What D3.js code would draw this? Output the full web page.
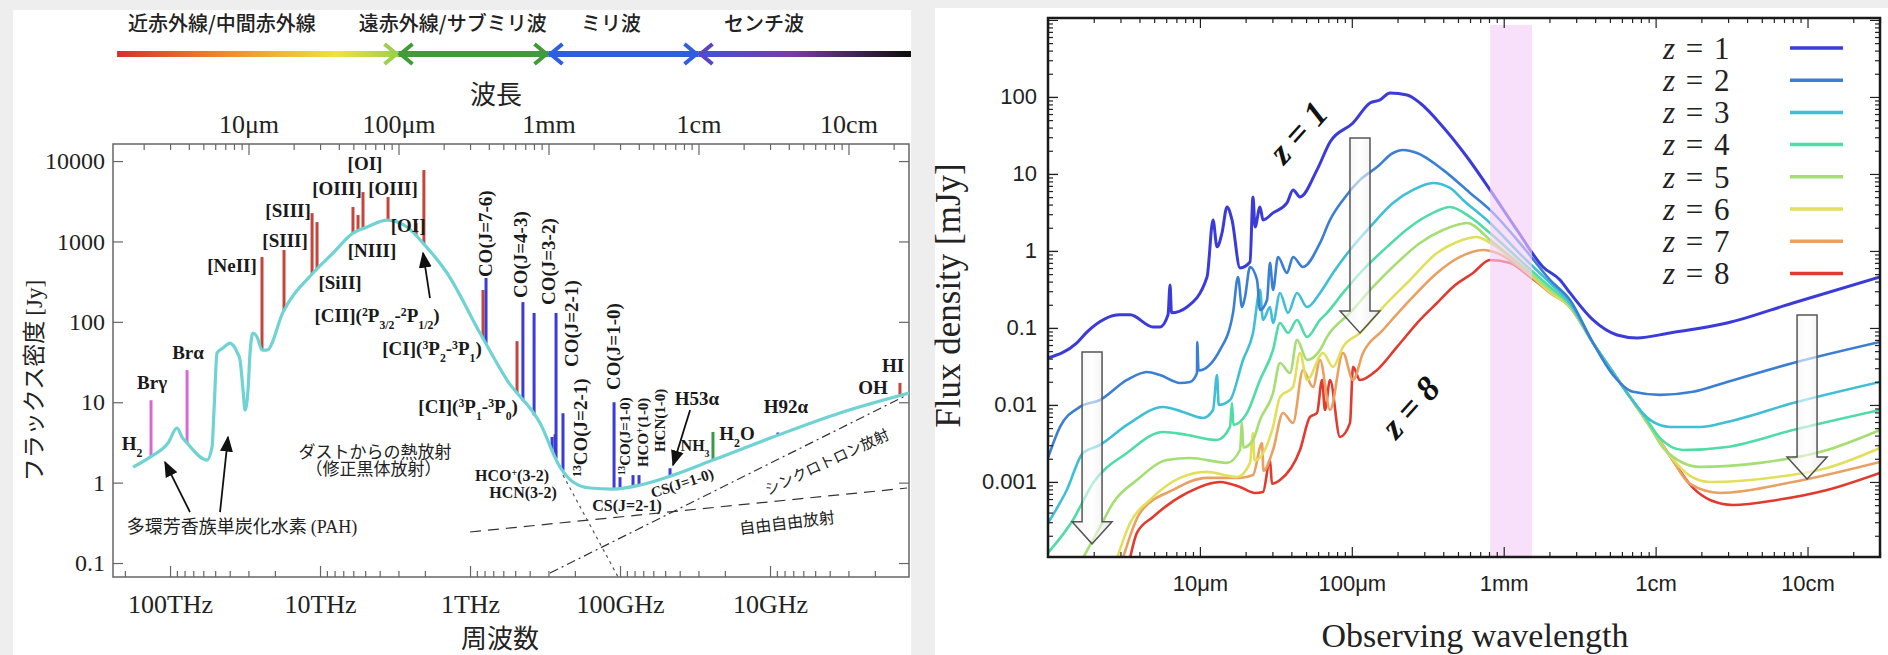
<!DOCTYPE html>
<html>
<head>
<meta charset="utf-8">
<script src="https://cdn.jsdelivr.net/npm/d3@7"></script>
<style>
  body { margin: 0; background: #eeeeee; }
  svg { display: block; }
</style>
</head>
<body>
<script>
// ================= left panel : galaxy SED with lines =================
const C_UMGHZ = 299792.458;               // λ[μm] * ν[GHz]

// wavelength bands along the top  (λ in μm)
const bandNames = ["近赤外線/中間赤外線", "遠赤外線/サブミリ波", "ミリ波", "センチ波"];
const bandEdges = [1.33, 100, 1000, 10000, 261000];
const bandNameAt = [6.65, 230, 2612, 27330];

const waveTickVals = [10, 100, 1000, 1e4, 1e5];
const waveTickLabels = ["10μm", "100μm", "1mm", "1cm", "10cm"];
const freqTickVals = [1e5, 1e4, 1e3, 100, 10];          // GHz
const freqTickLabels = ["100THz", "10THz", "1THz", "100GHz", "10GHz"];
const jyTickVals = [1e4, 1e3, 100, 10, 1, 0.1];
const jyTickLabels = ["10000", "1000", "100", "10", "1", "0.1"];

// continuum  [ν GHz, flux Jy]
const sedPoints = [
  [176500, 1.56], [135900, 2.08], [103100, 3.11], [89800, 4.78], [83200, 3.69], [77000, 3.11],
  [56660, 1.91], [52480, 2.77], [50890, 8.0], [48610, 40.9], [44340, 47.2], [39810, 54.5],
  [38020, 51.4], [35750, 42.1], [34150, 33.5], [32610, 14.2], [31620, 8.0], [30200, 14.2],
  [29290, 40.9], [27970, 72.6], [26300, 64.7], [24360, 44.6], [22560, 44.6], [17650, 132],
  [11140, 405], [8190, 718], [6030, 1271], [4860, 1510], [3575, 1845], [2630, 1510], [2058, 955],
  [1423, 405], [858, 72.6], [567, 18.9], [341.5, 5.51], [251, 1.56], [205.8, 1.02], [158.5, 0.857],
  [111.4, 0.832], [73.6, 0.933], [44.3, 1.24], [24.0, 1.91], [9.55, 3.69], [3.42, 7.35], [1.18, 13.0]
];
const freeFree = [[1000, 0.243], [1.22, 0.857]];
const synchrotron = [[293, 0.075], [1.22, 12.3]];
const dustTail = [[240, 1.24], [103, 0.067]];

// spectral lines [ν GHz, peak Jy, kind]
const specLines = [
  [133900, 10.6, "rec"], [77000, 25.1, "rec"],
  [24370, 640, "fs"], [17380, 782, "fs"], [11300, 2250, "fs"], [10470, 1740, "fs"],
  [6030, 2680, "fs"], [5580, 2130, "fs"], [5170, 4110, "fs"], [3520, 3570, "fs"],
  [2290, 1690, "fs"], [2030, 7730, "fs"], [819, 249, "fs"], [782, 351, "mol"],
  [486, 57.5, "fs"], [444, 176, "mol"], [374, 129, "mol"], [283.8, 3.7, "mol"],
  [271, 4.0, "mol"], [267, 129, "mol"], [240, 7.3, "mol"], [109.6, 10, "mol"],
  [100, 1.17, "mol"], [81.9, 1.24, "mol"], [74.7, 1.24, "mol"], [46.4, 1.51, "mol"],
  [24, 4.27, "h2o"], [8.85, 4.2, "mol"], [1.36, 17.4, "fs"]
];
const lineColor = { rec: "#d868d8", fs: "#c4453a", mol: "#3c3cd4", h2o: "#3a9a48" };

// annotations [text, ν, F]
const lineLabels = [
  ["[OI]", 5012, 9444], ["[OIII]", 7709, 4613], ["[OIII]", 3263, 4613], ["[SIII]", 16330, 2460],
  ["[OI]", 2588, 1600], ["[SIII]", 17100, 1040], ["[NIII]", 4500, 782], ["[NeII]", 38600, 508],
  ["[SiII]", 7356, 313], ["[CII](^{2}P_{3/2}-^{2}P_{1/2})", 4169, 121.6],
  ["[CI](^{3}P_{2}-^{3}P_{1})", 1791, 47.2], ["[CI](^{3}P_{1}-^{3}P_{0})", 1030, 8.97],
  ["Brα", 75860, 42.1], ["Brγ", 131800, 17.8], ["H_{2}", 179200, 3.11],
  ["H53α", 30.7, 11.3], ["H_{2}O", 16.6, 4.14], ["H92α", 7.82, 8.97], ["HI", 1.514, 29], ["OH", 2.056, 15.5]
];
const smallLabels = [
  ["HCO^{+}(3-2)", 525, 1.24], ["HCN(3-2)", 443.6, 0.764], ["CS(J=2-1)", 89.8, 0.526], ["NH_{3}", 31.6, 2.94]
];
const upLabels = [
  ["CO(J=7-6)", 794, 360], ["CO(J=4-3)", 464, 197.7], ["CO(J=3-2)", 302, 161.8],
  ["CO(J=2-1)", 212, 27.4], ["CO(J=1-0)", 111.4, 14.2], ["^{13}CO(J=2-1)", 184.8, 1.175]
];
const upSmallLabels = [
  ["^{13}CO(J=1-0)", 92.6, 1.24], ["HCO^{+}(1-0)", 70.3, 1.56], ["HCN(1-0)", 54.1, 2.40]
];
const jpLabels = [
  ["ダストからの熱放射", 4300, 2.40, 0, 17], ["（修正黒体放射）", 4400, 1.476, 0, 17],
  ["シンクロトロン放射", 4.17, 1.80, -25, 15], ["自由自由放射", 7.7, 0.315, -7, 16]
];
const arrowsL = [
  [[1849, 197.7], [2056, 718]], [[34.1, 8.0], [44.3, 1.655]],
  [[73620, 0.43], [107970, 1.80]], [[46420, 0.43], [41070, 3.69]]
];

// ================= right panel : redshifted SEDs =================
const redshifts = [1, 2, 3, 4, 5, 6, 7, 8];
const zColors = ["#3b3bd9", "#3a7fd4", "#3fbfd6", "#4fdca6", "#a5de72", "#e2df5c", "#e9a062", "#e23a2e"];
const obsTickVals = [10, 100, 1000, 1e4, 1e5];
const obsTickLabels = ["10μm", "100μm", "1mm", "1cm", "10cm"];
const mjyTickVals = [100, 10, 1, 0.1, 0.01, 0.001];
const mjyTickLabels = ["100", "10", "1", "0.1", "0.01", "0.001"];
const almaBand = [813, 1535];   // μm
const almaTop = 860;            // mJy

// [λobs μm, flux mJy]
const sedZ1 = [[1.0, 0.0408], [1.55, 0.0639], [1.81, 0.0887], [2.98, 0.148], [3.47, 0.148], [4.91, 0.103],
  [5.46, 0.103], [6.17, 0.148], [6.36, 0.362], [6.5, 0.157], [8.23, 0.187], [11.14, 0.459], [12.2, 2.53],
  [12.96, 1.13], [13.98, 1.71], [15.08, 3.73], [16.27, 2.53], [18.37, 0.602], [21.37, 0.72], [22.37, 5.03],
  [23.06, 2.05], [24.87, 3.73], [26.03, 2.53], [30.29, 3.12], [37.44, 4.2], [41.03, 6.2], [45.6, 5.03],
  [59.02, 11.3], [71.9, 26.0], [101.8, 45.9], [131.8, 83.6], [153.3, 91.4], [178.4, 112.7], [230.9, 106.2],
  [281.2, 83.6], [398.5, 40.8], [573.4, 16.6], [812.6, 6.2], [1223, 1.87], [1814, 0.62], [2348, 0.42],
  [2733, 0.285], [3872, 0.127], [5570, 0.0811], [7545, 0.0742], [12440, 0.0861], [29510, 0.116],
  [80270, 0.211], [300000, 0.459]];
const sedZ2 = [[1.0, 0.00205], [1.2, 0.00518], [1.62, 0.00942], [2.2, 0.0116], [3.31, 0.0211], [4.48, 0.0268],
  [5.46, 0.0245], [7.4, 0.0193], [8.61, 0.0199], [9.57, 0.026], [9.6, 0.0658], [9.8, 0.028], [13.56, 0.0518],
  [16.52, 0.157], [17.81, 0.459], [18.93, 0.187], [19.82, 0.253], [21.37, 0.62], [23.77, 0.42], [24.87, 0.171],
  [27.66, 0.231], [28.94, 0.699], [30.29, 0.312], [32.67, 0.836], [37.44, 0.518], [41.03, 0.836], [47.72, 0.62],
  [61.78, 1.27], [71.9, 2.53], [87.5, 4.6], [113.2, 8.36], [146.6, 12.3], [186.7, 18.7], [217.3, 20.5],
  [268.8, 18.7], [398.5, 11.3], [600, 5.67], [812.6, 3.41], [1340, 1.13], [2017, 0.42], [2733, 0.231],
  [3872, 0.0639], [5244, 0.0245], [7101, 0.0148], [10690, 0.0135], [17630, 0.0148], [29510, 0.0199],
  [80270, 0.0351], [300000, 0.0658]];
const sedZ3 = [[1.0, 0.000293], [1.33, 0.000787], [1.7, 0.00238], [2.2, 0.00302], [3.31, 0.0055], [5.72, 0.00942],
  [7.74, 0.00811], [10.48, 0.00678], [12.2, 0.00861], [12.96, 0.0245], [13.3, 0.01], [15.78, 0.0116],
  [19.22, 0.0384], [22.37, 0.0861], [24.87, 0.312], [26.03, 0.127], [28.94, 0.187], [30.29, 0.116],
  [33.68, 0.285], [38.02, 0.157], [43.58, 0.285], [50.72, 0.187], [61.78, 0.285], [75.2, 0.518], [97.3, 1.03],
  [131.8, 2.05], [186.7, 4.2], [252.9, 6.2], [342.5, 7.64], [443.1, 6.58], [539.7, 4.6], [812.6, 2.31],
  [1340, 0.836], [2017, 0.384], [2733, 0.211], [3872, 0.0639], [5011, 0.0302], [6785, 0.0127],
  [9188, 0.00639], [12440, 0.00518], [19600, 0.00518], [29510, 0.00602], [80270, 0.0106], [300000, 0.0199]];
const sedZ4 = [[1.0, 0.00012], [1.46, 0.000321], [1.98, 0.000971], [3.31, 0.00238], [5.72, 0.00446],
  [8.23, 0.00408], [12.96, 0.00351], [15.78, 0.00518], [16.27, 0.0106], [16.6, 0.0055], [20.42, 0.00787],
  [24.87, 0.0211], [30.29, 0.0518], [33.68, 0.116], [38.02, 0.0861], [43.58, 0.127], [50.72, 0.0764],
  [61.78, 0.127], [68.66, 0.157], [87.5, 0.285], [118.5, 0.567], [170.5, 1.13], [241.7, 2.05], [342.5, 3.12],
  [443.1, 3.73], [600, 2.77], [812.6, 1.71], [1340, 0.699], [2017, 0.341], [2733, 0.199], [3872, 0.0639],
  [5011, 0.0302], [6785, 0.0127], [8777, 0.00639], [10690, 0.0037], [15150, 0.0026], [29510, 0.00285],
  [80270, 0.00473], [300000, 0.00861]];
const sedZ5 = [[1.7, 0.000103], [2.2, 0.00026], [2.68, 0.000534], [3.85, 0.00106], [6.07, 0.00193],
  [8.61, 0.00205], [15.08, 0.00177], [18.37, 0.0026], [18.93, 0.00584], [19.3, 0.0028], [22.37, 0.00351],
  [24.87, 0.00639], [30.29, 0.0143], [33.68, 0.0351], [39.2, 0.026], [43.58, 0.0699], [50.72, 0.0384],
  [61.78, 0.0518], [68.66, 0.0764], [97.3, 0.157], [137.9, 0.341], [198.5, 0.699], [281.2, 1.27],
  [398.5, 1.87], [573.4, 2.31], [812.6, 1.39], [1340, 0.62], [2017, 0.312], [2733, 0.193], [3872, 0.0639],
  [5011, 0.0302], [6785, 0.0127], [8777, 0.00602], [11530, 0.0026], [19600, 0.00157], [48680, 0.00177],
  [134400, 0.0026], [300000, 0.00473]];
const sedZ6 = [[2.85, 0.000103], [3.47, 0.000293], [4.69, 0.000584], [7.4, 0.00113], [11.14, 0.00135],
  [17.55, 0.00116], [21.37, 0.00177], [22.37, 0.00433], [22.9, 0.0019], [30.29, 0.00518], [33.68, 0.0127],
  [41.03, 0.0171], [45.6, 0.0473], [50.72, 0.0211], [64.66, 0.0473], [75.2, 0.0312], [87.5, 0.0567],
  [113.2, 0.0861], [160.5, 0.187], [241.7, 0.42], [363.8, 0.942], [492.7, 1.31], [667.3, 1.52], [812.6, 1.27],
  [1340, 0.602], [2017, 0.293], [2733, 0.187], [3872, 0.0639], [5011, 0.0302], [6785, 0.0127],
  [8777, 0.00602], [12440, 0.00218], [16850, 0.0012], [22810, 0.001], [62990, 0.00116], [134400, 0.00152],
  [300000, 0.00276]];
const sedZ7 = [[3.12, 0.000103], [4.03, 0.000396], [6.65, 0.000787], [11.14, 0.00113], [18.37, 0.00113],
  [22.37, 0.00123], [25.64, 0.00321], [26.2, 0.0014], [30.29, 0.0026], [35.25, 0.00787], [41.03, 0.00584],
  [47.72, 0.0285], [55.55, 0.0171], [61.78, 0.0384], [71.9, 0.00861], [87.5, 0.0473], [101.8, 0.0211],
  [118.5, 0.0473], [160.5, 0.0942], [241.7, 0.231], [363.8, 0.518], [515.6, 0.836], [730.7, 1.03],
  [903.6, 0.942], [1340, 0.567], [2017, 0.285], [2733, 0.187], [3872, 0.0639], [5011, 0.0302],
  [6785, 0.0127], [8777, 0.00602], [12440, 0.00218], [16850, 0.000942], [26540, 0.00072], [80270, 0.001],
  [300000, 0.00182]];
const sedZ8 = [[3.47, 0.000103], [3.85, 0.000218], [4.91, 0.000351], [8.23, 0.00072], [13.56, 0.001],
  [18.37, 0.000861], [23.06, 0.00072], [26.03, 0.000742], [28.94, 0.00193], [29.8, 0.00095], [33.68, 0.00106],
  [45.6, 0.0026], [53.07, 0.00699], [59.02, 0.00787], [63.68, 0.0211], [66.6, 0.00861], [71.9, 0.0211],
  [83.6, 0.00384], [97.3, 0.00584], [101.8, 0.0312], [113.2, 0.0211], [146.6, 0.0285], [198.5, 0.0567],
  [281.2, 0.127], [363.8, 0.211], [463.7, 0.341], [628.1, 0.518], [812.6, 0.764], [1100, 0.699],
  [1490, 0.459], [2017, 0.293], [2733, 0.187], [3872, 0.0639], [5011, 0.0302], [6785, 0.0127],
  [8777, 0.00602], [12440, 0.00218], [17630, 0.000836], [22810, 0.000584], [32330, 0.000503],
  [62990, 0.000584], [134400, 0.000787], [300000, 0.00131]];
const zSeds = [sedZ1, sedZ2, sedZ3, sedZ4, sedZ5, sedZ6, sedZ7, sedZ8];

// redshift annotations and hollow arrows [λ, F]
const zNotes = [["z = 1", 44.2, 35.1], ["z = 8", 241.7, 0.00942]];
const zArrows = [[113.2, 29.4, 0.0861], [1.95, 0.0488, 0.000157], [99300, 0.1476, 0.00109]];

// ====================================================================
const serif = "'Liberation Serif','Times New Roman',serif";
const cjk = "'Noto Sans CJK JP','Noto Sans CJK SC',sans-serif";
const sans = "'Liberation Sans',Arial,sans-serif";

const svg = d3.select("body").append("svg").attr("width", 1888).attr("height", 655);
const defs = svg.append("defs");

// cards
svg.append("rect").attr("x", 13).attr("y", 10).attr("width", 898).attr("height", 645).attr("fill", "#fff");
svg.append("rect").attr("x", 935).attr("y", 8).attr("width", 953).attr("height", 647).attr("fill", "#fff");

function rich(t, str) {
  str.split(/(\^\{[^}]*\}|_\{[^}]*\})/).forEach(p => {
    if (!p) return;
    if (p.startsWith("^{")) t.append("tspan").attr("baseline-shift", "super").attr("font-size", "62%").text(p.slice(2, -1));
    else if (p.startsWith("_{")) t.append("tspan").attr("baseline-shift", "sub").attr("font-size", "62%").text(p.slice(2, -1));
    else t.append("tspan").text(p);
  });
  return t;
}
function isDecade(d) { return Math.abs(Math.log10(d) - Math.round(Math.log10(d))) < 1e-6; }

// ---------------- left panel ----------------
const L = { x0: 113, x1: 909, y0: 144, y1: 577 };
const xF = d3.scaleLog().domain([2.4e5, 1.184]).range([L.x0, L.x1]);
const xW = d3.scaleLog().domain([C_UMGHZ / 2.4e5, C_UMGHZ / 1.184]).range([L.x0, L.x1]);
const yJ = d3.scaleLog().domain([0.067, 16300]).range([L.y1, L.y0]);
const left = svg.append("g");

// band bar
const bandY = 54;
const grad0 = defs.append("linearGradient").attr("id", "band0").attr("gradientUnits", "userSpaceOnUse")
  .attr("x1", xW(bandEdges[0])).attr("x2", xW(bandEdges[1])).attr("y1", 0).attr("y2", 0);
[[0, "#d8302a"], [0.38, "#ef8a2c"], [0.78, "#f1e23c"], [1, "#9ed048"]].forEach(s => grad0.append("stop").attr("offset", s[0]).attr("stop-color", s[1]));
const grad3 = defs.append("linearGradient").attr("id", "band3").attr("gradientUnits", "userSpaceOnUse")
  .attr("x1", xW(bandEdges[3])).attr("x2", xW(bandEdges[4])).attr("y1", 0).attr("y2", 0);
[[0, "#3f55d8"], [0.45, "#7a3aa6"], [1, "#0d0d0d"]].forEach(s => grad3.append("stop").attr("offset", s[0]).attr("stop-color", s[1]));
const bandStroke = ["url(#band0)", "#3f9c38", "#2e5fe0", "url(#band3)"];
const chevR = ["#9ed048", "#3f9c38", "#2e5fe0"];
const chevL = ["#3f9c38", "#2e5fe0", "#5b45c0"];
bandNames.forEach((name, i) => {
  left.append("line").attr("x1", xW(bandEdges[i])).attr("x2", xW(bandEdges[i + 1]))
    .attr("y1", bandY).attr("y2", bandY).attr("stroke", bandStroke[i]).attr("stroke-width", 6);
  left.append("text").attr("x", xW(bandNameAt[i])).attr("y", 31).attr("text-anchor", "middle")
    .attr("font-family", cjk).attr("font-size", 20).attr("font-weight", 500).attr("fill", "#222").text(name);
});
bandEdges.slice(1, 4).forEach((e, i) => {
  const bx = xW(e);
  left.append("polyline").attr("points", `${bx - 14},${bandY - 10} ${bx - 2},${bandY} ${bx - 14},${bandY + 10}`)
    .attr("fill", "none").attr("stroke", chevR[i]).attr("stroke-width", 4);
  left.append("polyline").attr("points", `${bx + 14},${bandY - 10} ${bx + 2},${bandY} ${bx + 14},${bandY + 10}`)
    .attr("fill", "none").attr("stroke", chevL[i]).attr("stroke-width", 4);
});
left.append("text").attr("x", (L.x0 + L.x1) / 2 - 15).attr("y", 104).attr("text-anchor", "middle")
  .attr("font-family", cjk).attr("font-size", 26).attr("fill", "#222").text("波長");

// axes
function styleAxis(g, color, font, size) {
  g.select(".domain").remove();
  g.selectAll("line").attr("stroke", color).attr("stroke-width", 1.2);
  g.selectAll("text").attr("font-family", font).attr("font-size", size).attr("fill", "#222");
}
const minor = s => s.ticks().filter(d => !isDecade(d));
left.append("g").attr("transform", `translate(0,${L.y1})`)
  .call(d3.axisBottom(xF).tickValues(freqTickVals).tickFormat((d, i) => freqTickLabels[i]).tickSizeInner(-11).tickSizeOuter(0).tickPadding(18))
  .call(g => styleAxis(g, "#666", serif, 26));
left.append("g").attr("transform", `translate(0,${L.y1})`)
  .call(d3.axisBottom(xF).tickValues(minor(xF)).tickFormat("").tickSizeInner(-6).tickSizeOuter(0))
  .call(g => styleAxis(g, "#666", serif, 26));
left.append("g").attr("transform", `translate(0,${L.y0})`)
  .call(d3.axisTop(xW).tickValues(waveTickVals).tickFormat((d, i) => waveTickLabels[i]).tickSizeInner(-11).tickSizeOuter(0).tickPadding(11))
  .call(g => styleAxis(g, "#666", serif, 26));
left.append("g").attr("transform", `translate(0,${L.y0})`)
  .call(d3.axisTop(xW).tickValues(minor(xW)).tickFormat("").tickSizeInner(-6).tickSizeOuter(0))
  .call(g => styleAxis(g, "#666", serif, 26));
left.append("g").attr("transform", `translate(${L.x0},0)`)
  .call(d3.axisLeft(yJ).tickValues(jyTickVals).tickFormat((d, i) => jyTickLabels[i]).tickSizeInner(-10).tickSizeOuter(0).tickPadding(8))
  .call(g => styleAxis(g, "#666", serif, 24));
left.append("g").attr("transform", `translate(${L.x1},0)`)
  .call(d3.axisRight(yJ).tickValues(jyTickVals).tickFormat("").tickSizeInner(-10).tickSizeOuter(0))
  .call(g => styleAxis(g, "#666", serif, 24));
left.append("rect").attr("x", L.x0).attr("y", L.y0).attr("width", L.x1 - L.x0).attr("height", L.y1 - L.y0)
  .attr("fill", "none").attr("stroke", "#666").attr("stroke-width", 1.5);

left.append("text").attr("transform", `translate(42,${(L.y0 + L.y1) / 2 + 20}) rotate(-90)`).attr("text-anchor", "middle")
  .attr("font-family", cjk).attr("font-size", 23).attr("fill", "#222")
  .call(t => { t.append("tspan").text("フラックス密度 "); t.append("tspan").attr("font-family", serif).text("[Jy]"); });
left.append("text").attr("x", 500).attr("y", 648).attr("text-anchor", "middle")
  .attr("font-family", cjk).attr("font-size", 26).attr("fill", "#222").text("周波数");

defs.append("clipPath").attr("id", "clipL").append("rect")
  .attr("x", L.x0).attr("y", L.y0).attr("width", L.x1 - L.x0).attr("height", L.y1 - L.y0);
const plotL = left.append("g").attr("clip-path", "url(#clipL)");
const lineL = d3.line().x(d => xF(d[0])).y(d => yJ(d[1]));

plotL.append("path").datum(freeFree).attr("d", lineL).attr("fill", "none").attr("stroke", "#333").attr("stroke-width", 1.2).attr("stroke-dasharray", "11,7");
plotL.append("path").datum(synchrotron).attr("d", lineL).attr("fill", "none").attr("stroke", "#333").attr("stroke-width", 1.2).attr("stroke-dasharray", "9,4,2,4");
plotL.append("path").datum(dustTail).attr("d", lineL).attr("fill", "none").attr("stroke", "#555").attr("stroke-width", 1.2).attr("stroke-dasharray", "3,4");

function continuumAt(nu) {
  for (let i = 0; i < sedPoints.length - 1; i++) {
    const [a, fa] = sedPoints[i], [b, fb] = sedPoints[i + 1];
    if (nu <= a && nu >= b) {
      const t = (Math.log10(nu) - Math.log10(a)) / (Math.log10(b) - Math.log10(a));
      return Math.pow(10, Math.log10(fa) + t * (Math.log10(fb) - Math.log10(fa)));
    }
  }
  return sedPoints[sedPoints.length - 1][1];
}
plotL.selectAll(".spec").data(specLines).enter().append("line")
  .attr("x1", d => xF(d[0])).attr("x2", d => xF(d[0]))
  .attr("y1", d => yJ(continuumAt(d[0]))).attr("y2", d => yJ(d[1]))
  .attr("stroke", d => lineColor[d[2]]).attr("stroke-width", 3);

plotL.append("path").datum(sedPoints).attr("d", lineL.curve(d3.curveMonotoneX))
  .attr("fill", "none").attr("stroke", "#6fd3d3").attr("stroke-width", 3.2);

// annotation text
const ann = left.append("g").attr("font-family", serif).attr("font-weight", "bold").attr("fill", "#1a1a1a");
lineLabels.forEach(d => rich(ann.append("text").attr("x", xF(d[1])).attr("y", yJ(d[2])).attr("dy", "0.35em")
  .attr("text-anchor", "middle").attr("font-size", 19), d[0]));
smallLabels.forEach(d => rich(ann.append("text").attr("x", xF(d[1])).attr("y", yJ(d[2])).attr("dy", "0.35em")
  .attr("text-anchor", "middle").attr("font-size", 16), d[0]));
upLabels.forEach(d => rich(ann.append("text").attr("transform", `translate(${xF(d[1])},${yJ(d[2])}) rotate(-90)`)
  .attr("dy", "0.35em").attr("font-size", 19), d[0]));
upSmallLabels.forEach(d => rich(ann.append("text").attr("transform", `translate(${xF(d[1])},${yJ(d[2])}) rotate(-90)`)
  .attr("dy", "0.35em").attr("font-size", 15), d[0]));
ann.append("text").attr("transform", `translate(${xF(38.6)},${yJ(0.989)}) rotate(-18)`).attr("dy", "0.35em")
  .attr("text-anchor", "middle").attr("font-size", 15).text("CS(J=1-0)");
jpLabels.forEach(d => left.append("text").attr("transform", `translate(${xF(d[1])},${yJ(d[2])}) rotate(${d[3]})`)
  .attr("dy", "0.35em").attr("text-anchor", "middle").attr("font-family", cjk).attr("font-size", d[4]).attr("fill", "#222").text(d[0]));
left.append("text").attr("x", xF(33110)).attr("y", yJ(0.28)).attr("dy", "0.35em").attr("text-anchor", "middle")
  .attr("font-family", cjk).attr("font-size", 18).attr("fill", "#222")
  .call(t => { t.append("tspan").text("多環芳香族単炭化水素 "); t.append("tspan").attr("font-family", serif).text("(PAH)"); });

defs.append("marker").attr("id", "head").attr("viewBox", "0 0 10 10").attr("refX", 9).attr("refY", 5)
  .attr("markerWidth", 9).attr("markerHeight", 9).attr("orient", "auto")
  .append("path").attr("d", "M0,1 L10,5 L0,9 Z").attr("fill", "#111");
arrowsL.forEach(a => left.append("line").attr("x1", xF(a[0][0])).attr("y1", yJ(a[0][1]))
  .attr("x2", xF(a[1][0])).attr("y2", yJ(a[1][1])).attr("stroke", "#111").attr("stroke-width", 1.8)
  .attr("marker-end", "url(#head)"));

// ---------------- right panel ----------------
const R = { x0: 1048, x1: 1880, y0: 18, y1: 557 };
const xR = d3.scaleLog().domain([1, 3e5]).range([R.x0, R.x1]);
const yR = d3.scaleLog().domain([1.06e-4, 1060]).range([R.y1, R.y0]);
const right = svg.append("g");

defs.append("clipPath").attr("id", "clipR").append("rect")
  .attr("x", R.x0).attr("y", R.y0).attr("width", R.x1 - R.x0).attr("height", R.y1 - R.y0);
const plotR = right.append("g").attr("clip-path", "url(#clipR)");
const lineR = d3.line().x(d => xR(d[0])).y(d => yR(d[1])).curve(d3.curveMonotoneX);

zSeds.slice().reverse().forEach((s, k) => {
  const i = zSeds.length - 1 - k;
  plotR.append("path").datum(s).attr("d", lineR).attr("fill", "none")
    .attr("stroke", zColors[i]).attr("stroke-width", i === 0 ? 3 : 2.6).attr("stroke-linejoin", "round");
});
plotR.append("rect").attr("x", xR(almaBand[0])).attr("width", xR(almaBand[1]) - xR(almaBand[0]))
  .attr("y", yR(almaTop)).attr("height", R.y1 - yR(almaTop)).attr("fill", "#f3cdf7").attr("opacity", 0.62);

const arrowGrad = defs.append("linearGradient").attr("id", "arrowFill").attr("x1", 0).attr("x2", 1).attr("y1", 0).attr("y2", 0);
[[0, "#e6e6e6"], [0.5, "#ffffff"], [1, "#dcdcdc"]].forEach(s => arrowGrad.append("stop").attr("offset", s[0]).attr("stop-color", s[1]));
zArrows.forEach(a => {
  const x = xR(a[0]), yt = yR(a[1]), yp = yR(a[2]), yh = yp - 22;
  plotR.append("path").attr("d", `M${x - 10},${yt} H${x + 10} V${yh} H${x + 20} L${x},${yp} L${x - 20},${yh} H${x - 10} Z`)
    .attr("fill", "url(#arrowFill)").attr("fill-opacity", 0.6).attr("stroke", "#555").attr("stroke-width", 1.5);
});
zNotes.forEach(d => right.append("text").attr("transform", `translate(${xR(d[1])},${yR(d[2])}) rotate(-48)`)
  .attr("dy", "0.35em").attr("text-anchor", "middle").attr("font-family", serif).attr("font-style", "italic")
  .attr("font-weight", "bold").attr("font-size", 35).attr("fill", "#111").text(d[0]));

// legend
redshifts.forEach((z, i) => {
  const y = 48 + i * 32.2;
  right.append("text").attr("x", 1663).attr("y", y).attr("dy", "0.35em").attr("font-family", serif)
    .attr("font-size", 31).attr("letter-spacing", 1.5).attr("fill", "#222")
    .call(t => { t.append("tspan").attr("font-style", "italic").text("z"); t.append("tspan").text(` = ${z}`); });
  right.append("line").attr("x1", 1790).attr("x2", 1843).attr("y1", y).attr("y2", y)
    .attr("stroke", zColors[i]).attr("stroke-width", 3.5);
});

// axes
right.append("g").attr("transform", `translate(0,${R.y1})`)
  .call(d3.axisBottom(xR).tickValues(obsTickVals).tickFormat((d, i) => obsTickLabels[i]).tickSizeInner(-10).tickSizeOuter(0).tickPadding(18))
  .call(g => styleAxis(g, "#222", sans, 22));
right.append("g").attr("transform", `translate(0,${R.y1})`)
  .call(d3.axisBottom(xR).tickValues(minor(xR)).tickFormat("").tickSizeInner(-5).tickSizeOuter(0))
  .call(g => styleAxis(g, "#222", sans, 22));
right.append("g").attr("transform", `translate(0,${R.y0})`)
  .call(d3.axisTop(xR).tickValues(xR.ticks().filter(isDecade)).tickFormat("").tickSizeInner(-10).tickSizeOuter(0))
  .call(g => styleAxis(g, "#222", sans, 22));
right.append("g").attr("transform", `translate(0,${R.y0})`)
  .call(d3.axisTop(xR).tickValues(minor(xR)).tickFormat("").tickSizeInner(-5).tickSizeOuter(0))
  .call(g => styleAxis(g, "#222", sans, 22));
right.append("g").attr("transform", `translate(${R.x0},0)`)
  .call(d3.axisLeft(yR).tickValues(mjyTickVals).tickFormat((d, i) => mjyTickLabels[i]).tickSizeInner(-10).tickSizeOuter(0).tickPadding(11))
  .call(g => styleAxis(g, "#222", sans, 22));
[R.x0, R.x1].forEach((xa, j) => {
  const ax = j === 0 ? d3.axisLeft : d3.axisRight;
  right.append("g").attr("transform", `translate(${xa},0)`)
    .call(ax(yR).tickValues(yR.ticks().filter(isDecade)).tickFormat("").tickSizeInner(-10).tickSizeOuter(0))
    .call(g => styleAxis(g, "#222", sans, 22));
  right.append("g").attr("transform", `translate(${xa},0)`)
    .call(ax(yR).tickValues(minor(yR)).tickFormat("").tickSizeInner(-5).tickSizeOuter(0))
    .call(g => styleAxis(g, "#222", sans, 22));
});
right.append("rect").attr("x", R.x0).attr("y", R.y0).attr("width", R.x1 - R.x0).attr("height", R.y1 - R.y0)
  .attr("fill", "none").attr("stroke", "#1a1a1a").attr("stroke-width", 2.5);

right.append("text").attr("transform", `translate(960,${(R.y0 + R.y1) / 2 + 8}) rotate(-90)`).attr("text-anchor", "middle")
  .attr("font-family", serif).attr("font-size", 35).attr("fill", "#222").text("Flux density [mJy]");
right.append("text").attr("x", (R.x0 + R.x1) / 2 + 11).attr("y", 647).attr("text-anchor", "middle")
  .attr("font-family", serif).attr("font-size", 34).attr("fill", "#222").text("Observing wavelength");
</script>
</body>
</html>
